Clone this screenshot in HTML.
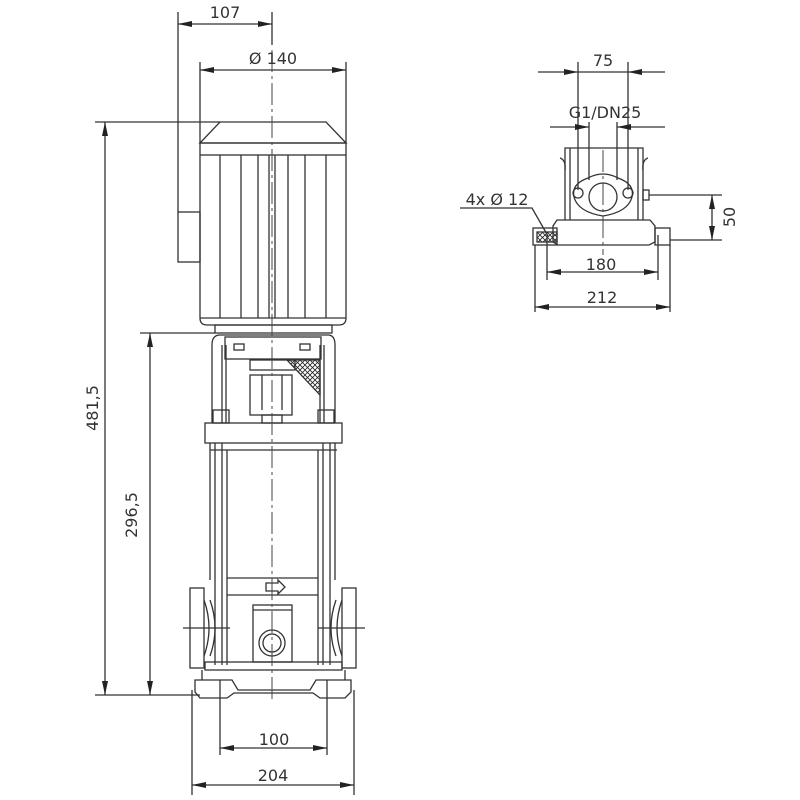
<!DOCTYPE html>
<html><head><meta charset="utf-8"><style>html,body{margin:0;padding:0;background:#fff}svg{display:block}text{font-family:"DejaVu Sans","Liberation Sans",sans-serif;font-size:16px;fill:#333}</style></head>
<body>
<svg width="800" height="800" viewBox="0 0 800 800" xmlns="http://www.w3.org/2000/svg">
<defs>
<marker id="a" viewBox="0 0 14 6" refX="14" refY="3" markerWidth="14" markerHeight="6" orient="auto-start-reverse" markerUnits="userSpaceOnUse"><path d="M0,0L14,3L0,6z" fill="#222"/></marker>
<pattern id="h" width="5" height="5" patternUnits="userSpaceOnUse"><path d="M0,0L5,5M5,0L0,5" stroke="#222" stroke-width="0.8"/></pattern>
</defs>
<g stroke="#333" stroke-width="1.3" fill="none">
<line x1="178" y1="12" x2="178" y2="212"/>
<line x1="272" y1="12" x2="272" y2="45"/>
<line x1="178" y1="24" x2="272" y2="24" marker-start="url(#a)" marker-end="url(#a)"/>
<line x1="200" y1="62" x2="200" y2="143"/>
<line x1="346" y1="62" x2="346" y2="143"/>
<line x1="200" y1="70" x2="346" y2="70" marker-start="url(#a)" marker-end="url(#a)"/>
<line x1="95" y1="122" x2="220" y2="122"/>
<line x1="140" y1="333" x2="215" y2="333"/>
<line x1="95" y1="695" x2="200" y2="695"/>
<line x1="105" y1="122" x2="105" y2="695" marker-start="url(#a)" marker-end="url(#a)"/>
<line x1="150" y1="333" x2="150" y2="695" marker-start="url(#a)" marker-end="url(#a)"/>
<line x1="192" y1="690" x2="192" y2="795"/>
<line x1="354" y1="690" x2="354" y2="795"/>
<line x1="220" y1="680" x2="220" y2="755"/>
<line x1="327" y1="680" x2="327" y2="755"/>
<line x1="220" y1="748" x2="327" y2="748" marker-start="url(#a)" marker-end="url(#a)"/>
<line x1="192" y1="785" x2="354" y2="785" marker-start="url(#a)" marker-end="url(#a)"/>
<path d="M220,122H326L346,143H200Z"/>
<rect x="200" y="143" width="146" height="12"/>
<path d="M200,155V318Q200,325 207,325H339Q346,325 346,318V155"/>
<line x1="220" y1="155" x2="220" y2="318"/><line x1="241" y1="155" x2="241" y2="318"/>
<line x1="258" y1="155" x2="258" y2="318"/><line x1="269" y1="155" x2="269" y2="318"/>
<line x1="275" y1="155" x2="275" y2="318"/><line x1="288" y1="155" x2="288" y2="318"/>
<line x1="305" y1="155" x2="305" y2="318"/><line x1="326" y1="155" x2="326" y2="318"/>
<line x1="200" y1="318" x2="346" y2="318"/>
<rect x="215" y="325" width="117" height="8"/>
<rect x="178" y="212" width="22" height="50"/>
<path d="M212,423V345Q212,335 220,335H328Q335,335 335,345V423"/>
<rect x="225" y="337" width="96" height="22"/>
<rect x="234" y="344" width="10" height="6"/><rect x="300" y="344" width="10" height="6"/>
<line x1="222" y1="345" x2="222" y2="423"/><line x1="226" y1="345" x2="226" y2="423"/>
<line x1="320" y1="345" x2="320" y2="423"/><line x1="324" y1="345" x2="324" y2="423"/>
<rect x="250" y="360" width="45" height="10"/>
<rect x="250" y="375" width="42" height="40"/>
<path d="M262,375V410M282,375V410"/>
<rect x="262" y="415" width="20" height="8"/>
<rect x="213" y="410" width="16" height="13"/><rect x="318" y="410" width="16" height="13"/>
<path d="M287,360L320,360L320,395Z" fill="url(#h)"/>
<rect x="205" y="423" width="137" height="20"/>
<line x1="210" y1="450" x2="337" y2="450"/>
<line x1="210" y1="443" x2="210" y2="580"/><line x1="215" y1="443" x2="215" y2="665"/>
<line x1="222" y1="443" x2="222" y2="665"/><line x1="227" y1="450" x2="227" y2="665"/>
<line x1="318" y1="450" x2="318" y2="665"/><line x1="323" y1="443" x2="323" y2="665"/>
<line x1="330" y1="443" x2="330" y2="665"/><line x1="335" y1="443" x2="335" y2="580"/>
<line x1="227" y1="578" x2="318" y2="578"/><line x1="227" y1="595" x2="318" y2="595"/>
<path d="M266,583H278V580L285,587L278,594V591H266Z"/>
<rect x="190" y="588" width="14" height="80"/><rect x="342" y="588" width="14" height="80"/>
<path d="M204,600Q214,628 204,656M210,600Q220,628 210,656"/>
<path d="M342,600Q332,628 342,656M336,600Q326,628 336,656"/>
<rect x="253" y="605" width="39" height="57"/><line x1="253" y1="610" x2="292" y2="610"/>
<circle cx="272" cy="643" r="13"/><circle cx="272" cy="643" r="9"/>
<rect x="205" y="662" width="137" height="8"/>
<path d="M195,680H232L238,690H310L316,680H351V692L345,698H320L313,693H234L227,698H200L195,692Z"/>
<path d="M202,680V670M345,680V670"/>
<line x1="183" y1="628" x2="230" y2="628"/><line x1="318" y1="628" x2="365" y2="628"/>
</g>
<g stroke="#444" stroke-width="1" stroke-dasharray="22,4,3,4" fill="none">
<line x1="272" y1="50" x2="272" y2="700"/>
<line x1="603" y1="150" x2="603" y2="255"/>
</g>
<g stroke="#333" stroke-width="1.3" fill="none">
<line x1="578" y1="62" x2="578" y2="190"/><line x1="628" y1="62" x2="628" y2="190"/>
<line x1="538" y1="72" x2="578" y2="72" marker-end="url(#a)"/>
<line x1="665" y1="72" x2="628" y2="72" marker-end="url(#a)"/>
<line x1="578" y1="72" x2="628" y2="72"/>
<line x1="589" y1="122" x2="589" y2="180"/><line x1="617" y1="122" x2="617" y2="180"/>
<line x1="550" y1="127" x2="589" y2="127" marker-end="url(#a)"/>
<line x1="665" y1="127" x2="617" y2="127" marker-end="url(#a)"/>
<path d="M565,220V148H643V220"/>
<path d="M570,148V220M638,148V220"/>
<path d="M560,158Q566,160 565,170M648,158Q642,160 643,170"/>
<path d="M588,178Q603,170 618,178Q635,184 632,197Q628,212 603,216Q578,212 574,197Q571,184 588,178Z"/>
<circle cx="603" cy="197" r="14"/>
<circle cx="578" cy="193" r="5"/><circle cx="628" cy="193" r="5"/>
<path d="M557,220H650L655,226V242L649,245H558L553,242V226Z"/>
<rect x="533" y="228" width="24" height="17"/><rect x="655" y="228" width="15" height="17"/>
<rect x="537" y="232" width="20" height="10" fill="url(#h)"/>
<rect x="643" y="190" width="6" height="10"/>
<line x1="649" y1="195" x2="722" y2="195"/><line x1="670" y1="240" x2="722" y2="240"/>
<line x1="712" y1="195" x2="712" y2="240" marker-start="url(#a)" marker-end="url(#a)"/>
<line x1="547" y1="235" x2="547" y2="280"/><line x1="658" y1="235" x2="658" y2="280"/>
<line x1="535" y1="245" x2="535" y2="312"/><line x1="670" y1="245" x2="670" y2="312"/>
<line x1="547" y1="272" x2="658" y2="272" marker-start="url(#a)" marker-end="url(#a)"/>
<line x1="535" y1="307" x2="670" y2="307" marker-start="url(#a)" marker-end="url(#a)"/>
<path d="M460,208H532L548,236"/>
</g>
<g text-anchor="middle">
<text x="225" y="18">107</text>
<text x="273" y="64">Ø 140</text>
<text x="274" y="745">100</text>
<text x="273" y="781">204</text>
<text transform="translate(98,408) rotate(-90)">481,5</text>
<text transform="translate(137,515) rotate(-90)">296,5</text>
<text x="603" y="66">75</text>
<text x="605" y="118">G1/DN25</text>
<text x="497" y="205">4x Ø 12</text>
<text x="601" y="270">180</text>
<text x="602" y="303">212</text>
<text transform="translate(735,217) rotate(-90)">50</text>
</g>
</svg>
</body></html>
